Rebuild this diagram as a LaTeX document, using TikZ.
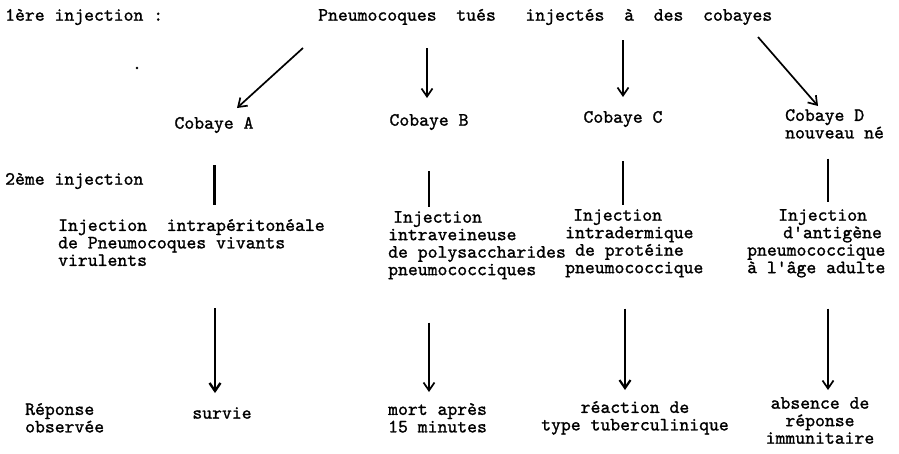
\documentclass[tikz,border=0pt]{standalone}
\usepackage{fontspec}
\newfontfamily\typew[FakeBold=1.2]{lmmono10-regular.otf}
\usetikzlibrary{arrows.meta, calc}

\tikzset{
  txt/.style={font=\typew\fontsize{18.8}{17.5}\selectfont, inner sep=0pt, align=left},
  arr/.style={-{Straight Barb[length=8pt, width=11pt]}, line width=1.7pt},
  bar/.style={line width=2pt}
}

\begin{document}
\begin{tikzpicture}[x=1pt, y=-1pt]
        \fill[white] (0,0) rectangle (899,453);
        \useasboundingbox (0,0) rectangle (899,453);

        % 1ere injection
        \node[txt, anchor=west] (lab1) at (5,17) {1ère injection :};
        \node[txt, anchor=west] (top) at (318,17) {Pneumocoques\ \ tués\ \ \ injectés\ \ à\ \ des\ \ cobayes};
        \fill (137,68) circle (1.3pt);

        \node[txt] (cA) at (214,125) {Cobaye A};
        \node[txt] (cB) at (429,122) {Cobaye B};
        \node[txt] (cC) at (623,119) {Cobaye C};
        \node[txt, anchor=north west] (cD) at (785,109) {Cobaye D\\nouveau né};

        \coordinate (fromA) at (303,48);
        \coordinate (fromB) at (427,48);
        \coordinate (fromC) at (623,40);
        \coordinate (fromD) at (758,37);
        \draw[arr] (fromA) -- ($(cA.center)+(23,-17)$);
        \draw[arr] (fromB) -- ($(cB.center)+(-2,-24)$);
        \draw[arr] (fromC) -- ($(cC.center)+(0,-22)$);
        \draw[arr] (fromD) -- ($(cD.north west)+(33,-3)$);

        % 2eme injection
        \node[txt, anchor=west] (lab2) at (5,181) {2ème injection};
        \node[txt, anchor=north west] (iA) at (58,219) {Injection\ \ intrapéritonéale\\de Pneumocoques vivants\\virulents};
        \node[txt, anchor=north west] (iB) at (388,211) {\hspace*{5pt}Injection\\intraveineuse\\de polysaccharides\\pneumococciques};
        \node[txt, anchor=north west] (iC) at (565,209) {\hspace*{8pt}Injection\\intradermique\\\hspace*{10pt}de protéine\\pneumococcique};
        \node[txt, anchor=north west] (iD) at (747,209) {\hspace*{31pt}Injection\\\hspace*{36pt}d\textquotesingle antigène\\pneumococcique\\à l\textquotesingle âge adulte};

        \draw[bar, line width=3pt, shorten <=32pt, shorten >=14pt] (cA) -- (cA |- iA.north);
        \draw[bar, shorten <=41pt, shorten >=4pt] (cB) -- (cB |- iB.north);
        \draw[bar, shorten <=34pt, shorten >=4pt] (cC) -- (cC |- iC.north);
        \draw[bar, shorten <=20pt, shorten >=7pt] ([xshift=-7pt]cD.south) -- ([xshift=-7pt]cD.south |- iD.north);

        % reponse
        \node[txt, anchor=north west] (lab3) at (25,403) {Réponse\\observée};
        \node[txt] (rA) at (222,413) {survie};
        \node[txt, anchor=north west] (rB) at (388,403) {mort après\\15 minutes};
        \node[txt, anchor=north, align=center] (rC) at (635,401) {réaction de\\type tuberculinique};
        \node[txt, anchor=north, align=center] (rD) at (820,397) {absence de\\réponse\\immunitaire};

        \draw[arr, line width=2.4pt, shorten <=42pt, shorten >=14pt] ([xshift=-7pt]rA.north |- iA.south) -- ([xshift=-7pt]rA.north);
        \draw[arr, shorten <=43pt, shorten >=11pt] (cB |- iB.south) -- (cB |- rB.north);
        \draw[arr, line width=2.2pt, shorten <=31pt, shorten >=11pt] ([xshift=2pt]cC |- iC.south) -- ([xshift=2pt]cC |- rC.north);
        \draw[arr, shorten <=31pt, shorten >=7pt] ([xshift=8pt]rD.north |- iD.south) -- ([xshift=8pt]rD.north);
\end{tikzpicture}
\end{document}
